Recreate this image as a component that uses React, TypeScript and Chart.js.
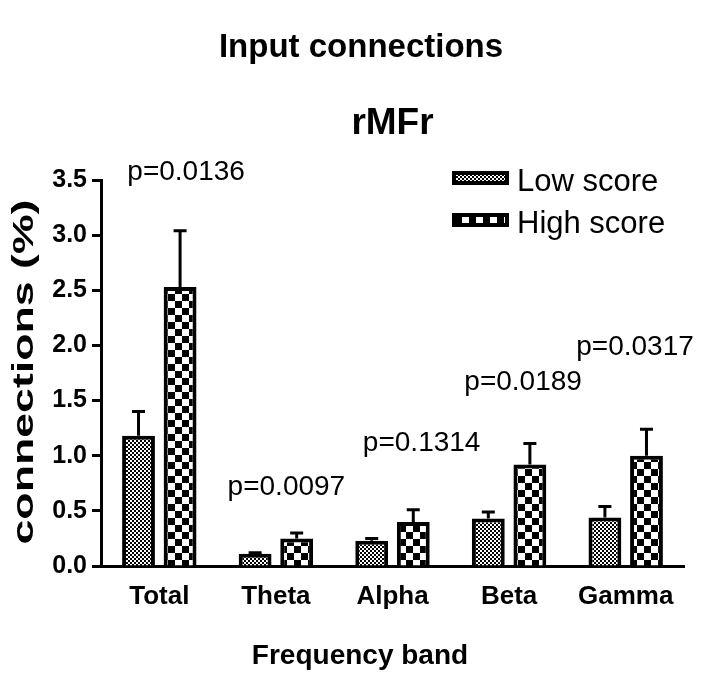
import React, { useEffect, useRef } from "react";
import { Chart, registerables } from "chart.js";

Chart.register(...registerables);

const categories = ["Total", "Theta", "Alpha", "Beta", "Gamma"];
const seriesNames = ["Low score", "High score"];
const lowScore = [1.18, 0.11, 0.23, 0.43, 0.44];
const lowScoreErr = [0.22, 0.01, 0.02, 0.06, 0.10];
const highScore = [2.53, 0.25, 0.40, 0.92, 1.0];
const highScoreErr = [0.51, 0.05, 0.11, 0.19, 0.24];
const pLabels = ["p=0.0136", "p=0.0097", "p=0.1314", "p=0.0189", "p=0.0317"];
// annotation anchors in data units: category index shift, value
const pLabelShift = [0.23, 0.09, 0.25, 0.12, 0.08];
const pLabelValue = [3.57, 0.71, 1.11, 1.67, 1.98];
const yTicks = [0, 0.5, 1.0, 1.5, 2.0, 2.5, 3.0, 3.5];
const chartTitle = "Input connections";
const chartSubtitle = "rMFr";
const xTitle = "Frequency band";
const yTitle = "connections (%)";

const FONT = "'Liberation Sans', Arial, sans-serif";

function makePattern(cell: number): CanvasPattern | string {
  const c = document.createElement("canvas");
  c.width = cell * 2;
  c.height = cell * 2;
  const g = c.getContext("2d");
  if (!g) return "#000";
  g.fillStyle = "#fff";
  g.fillRect(0, 0, cell * 2, cell * 2);
  g.fillStyle = "#000";
  g.fillRect(0, 0, cell, cell);
  g.fillRect(cell, cell, cell, cell);
  const p = g.createPattern(c, "repeat");
  return p || "#000";
}

export default function App() {
  const ref = useRef<HTMLCanvasElement | null>(null);

  useEffect(() => {
    const canvas = ref.current;
    if (!canvas) return;
    const lowPat = makePattern(2);
    const highPat = makePattern(7);
    const errs = [lowScoreErr, highScoreErr];
    const pats = [lowPat, highPat];

    const overlay = {
      id: "overlay",
      afterDatasetsDraw(chart: any) {
        const ctx = chart.ctx;
        const y = chart.scales.y;
        ctx.save();
        ctx.strokeStyle = "#000";
        ctx.lineWidth = 3;
        ctx.lineCap = "butt";
        chart.data.datasets.forEach((ds: any, di: number) => {
          const meta = chart.getDatasetMeta(di);
          meta.data.forEach((el: any, i: number) => {
            const v = ds.data[i];
            const top = y.getPixelForValue(v + errs[di][i]);
            ctx.beginPath();
            ctx.moveTo(el.x, el.y);
            ctx.lineTo(el.x, top);
            ctx.moveTo(el.x - 6.5, top);
            ctx.lineTo(el.x + 6.5, top);
            ctx.stroke();
          });
        });
        ctx.restore();
      },
      afterDraw(chart: any) {
        const ctx = chart.ctx;
        const x = chart.scales.x;
        const y = chart.scales.y;
        const area = chart.chartArea;
        ctx.save();
        ctx.fillStyle = "#000";
        ctx.textAlign = "center";
        ctx.textBaseline = "middle";
        // titles
        ctx.font = `bold 33px ${FONT}`;
        ctx.fillText(chartTitle, 361, 48);
        ctx.font = `bold 37px ${FONT}`;
        ctx.fillText(chartSubtitle, (area.left + area.right) / 2, 124);
        // x title
        ctx.font = `bold 28px ${FONT}`;
        ctx.fillText(xTitle, 360, 656);
        // y title
        ctx.save();
        ctx.translate(25, 372);
        ctx.rotate(-Math.PI / 2);
        ctx.font = `bold 29px ${FONT}`;
        const w = ctx.measureText(yTitle).width;
        ctx.scale(345 / w, 1);
        ctx.fillText(yTitle, 0, 0);
        ctx.restore();
        // p-values
        ctx.font = `28px ${FONT}`;
        pLabels.forEach((t, i) => {
          const px = x.getPixelForValue(i + pLabelShift[i]);
          const py = y.getPixelForValue(pLabelValue[i]);
          ctx.fillText(t, px, py);
        });
        // legend
        ctx.textAlign = "left";
        ctx.font = `31px ${FONT}`;
        const lx = 452;
        const rows = [182, 224];
        seriesNames.forEach((name, i) => {
          const cy = rows[i];
          ctx.fillStyle = "#000";
          ctx.fillRect(lx, cy - 11, 57, 14);
          ctx.fillStyle = pats[i] as any;
          ctx.fillRect(lx + 4, cy - 7, 49, 6);
          ctx.fillStyle = "#000";
          ctx.fillText(name, lx + 65, cy);
        });
        ctx.restore();
      },
    };

    const chart = new Chart(canvas, {
      type: "bar",
      data: {
        labels: categories,
        datasets: [
          {
            label: seriesNames[0],
            data: lowScore,
            backgroundColor: lowPat as any,
            borderColor: "#000",
            borderWidth: 4,
            borderSkipped: "bottom",
          },
          {
            label: seriesNames[1],
            data: highScore,
            backgroundColor: highPat as any,
            borderColor: "#000",
            borderWidth: 4,
            borderSkipped: "bottom",
          },
        ],
      },
      options: {
        responsive: false,
        animation: false,
        devicePixelRatio: 1,
        layout: { padding: { top: 180, right: 42, left: 0, bottom: 0 } },
        datasets: {
          bar: { categoryPercentage: 0.713, barPercentage: 0.79 },
        },
        plugins: {
          legend: { display: false },
          title: { display: false },
          tooltip: { enabled: false },
        },
        scales: {
          x: {
            grid: { display: false, drawTicks: false },
            border: { display: true, color: "#000", width: 3 },
            ticks: {
              color: "#000",
              font: { family: FONT, size: 26, weight: "bold" },
              padding: 15,
            },
            afterFit(scale: any) {
              scale.height = 122;
            },
          },
          y: {
            min: 0,
            max: 3.5,
            afterBuildTicks(scale: any) {
              scale.ticks = yTicks.map((v) => ({ value: v }));
            },
            grid: {
              display: true,
              drawOnChartArea: false,
              drawTicks: true,
              tickLength: 9,
              tickWidth: 3,
              tickColor: "#000",
            },
            border: { display: true, color: "#000", width: 3 },
            ticks: {
              color: "#000",
              font: { family: FONT, size: 25, weight: "bold" },
              padding: 5,
              callback: (v: any) => Number(v).toFixed(1),
            },
            afterFit(scale: any) {
              scale.width = 101;
            },
          },
        },
      },
      plugins: [overlay],
    });
    return () => chart.destroy();
  }, []);

  return (
    <div style={{ position: "fixed", left: 0, top: 0, width: 726, height: 688, background: "#fff" }}>
      <canvas ref={ref} width={726} height={688} style={{ width: 726, height: 688, display: "block" }} />
    </div>
  );
}
